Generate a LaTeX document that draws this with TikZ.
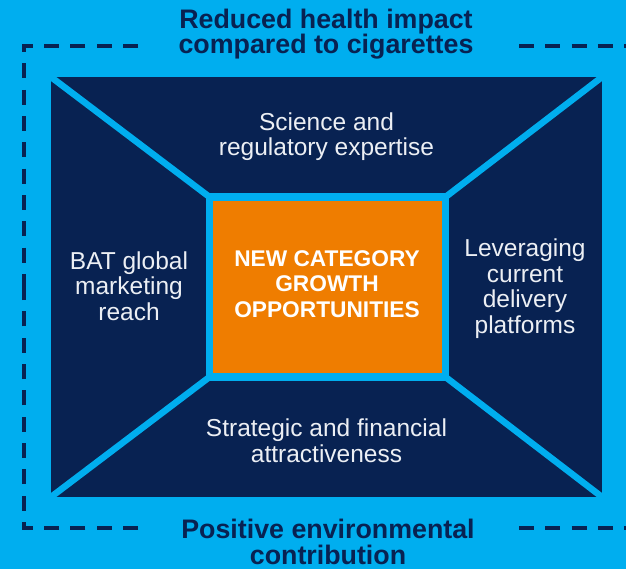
\documentclass[tikz,border=0pt]{standalone}
\usepackage{fontspec}
\setmainfont{Liberation Sans}
\definecolor{skyb}{RGB}{0,174,239}
\definecolor{navy}{RGB}{8,34,82}
\definecolor{orng}{RGB}{239,125,0}
\definecolor{ltxt}{RGB}{236,239,244}
\begin{document}
\begin{tikzpicture}[x=1bp,y=-1bp,
  dashline/.style={navy,line width=4.5bp,dash pattern=on 15bp off 11.3bp},
  spoke/.style={skyb,line width=6.5bp},
  heading/.style={navy,font=\fontsize{26.8bp}{25.5bp}\selectfont\bfseries,align=center,inner sep=0pt,anchor=base},
  sidetext/.style={ltxt,font=\fontsize{24.5bp}{25.5bp}\selectfont,align=center,inner sep=0pt,anchor=base},
  coretext/.style={white,font=\fontsize{22.7bp}{25.5bp}\selectfont\bfseries,align=center,inner sep=0pt,anchor=base}]
\useasboundingbox (0,0) rectangle (626,569);
\fill[skyb] (0,0) rectangle (626,569);
% dashed frame
\coordinate (dta) at (138,46);
\coordinate (dtc) at (24,46);
\coordinate (dm) at (24,287);
\coordinate (dba) at (138,528);
\coordinate (dbc) at (24,528);
\coordinate (dtr) at (519,46);
\coordinate (dtre) at (645,46);
\coordinate (dbr) at (519,528);
\coordinate (dbre) at (645,528);
\draw[dashline] (dta) -- (dtc) -- (dm);
\draw[dashline] (dba) -- (dbc) -- (dm);
\draw[dashline] (dtr) -- (dtre);
\draw[dashline] (dbr) -- (dbre);
% navy panel
\coordinate (tl) at (51,77);
\coordinate (tr) at (602,77);
\coordinate (bl) at (51,497);
\coordinate (br) at (602,497);
\fill[navy] (tl) rectangle (br);
% centre box
\node[draw=skyb,fill=orng,line width=7.5bp,minimum width=236bp,minimum height=180bp,inner sep=0pt,outer sep=0pt] (box) at (327.5,287) {};
\draw[spoke] (tl) -- (box.north west);
\draw[spoke] (tr) -- (box.north east);
\draw[spoke] (bl) -- (box.south west);
\draw[spoke] (br) -- (box.south east);
\node[draw=skyb,fill=orng,line width=7.5bp,minimum width=236bp,minimum height=180bp,inner sep=0pt,outer sep=0pt] (boxtop) at (327.5,287) {};
% texts (base anchor = baseline of the last line)
\node[heading] (toph) at (326,54) {Reduced health impact\\compared to cigarettes};
\node[heading] (both) at (328,564) {Positive environmental\\contribution};
\node[sidetext] (sci) at (326.5,156) {Science and\\regulatory expertise};
\node[sidetext] (bat) at (129,320) {BAT global\\marketing\\reach};
\node[sidetext] (lev) at (525,333) {Leveraging\\current\\delivery\\platforms};
\node[sidetext] (str) at (326.5,462) {Strategic and financial\\attractiveness};
\node[coretext] (ct) at (327,317) {NEW CATEGORY\\GROWTH\\OPPORTUNITIES};
\end{tikzpicture}
\end{document}
